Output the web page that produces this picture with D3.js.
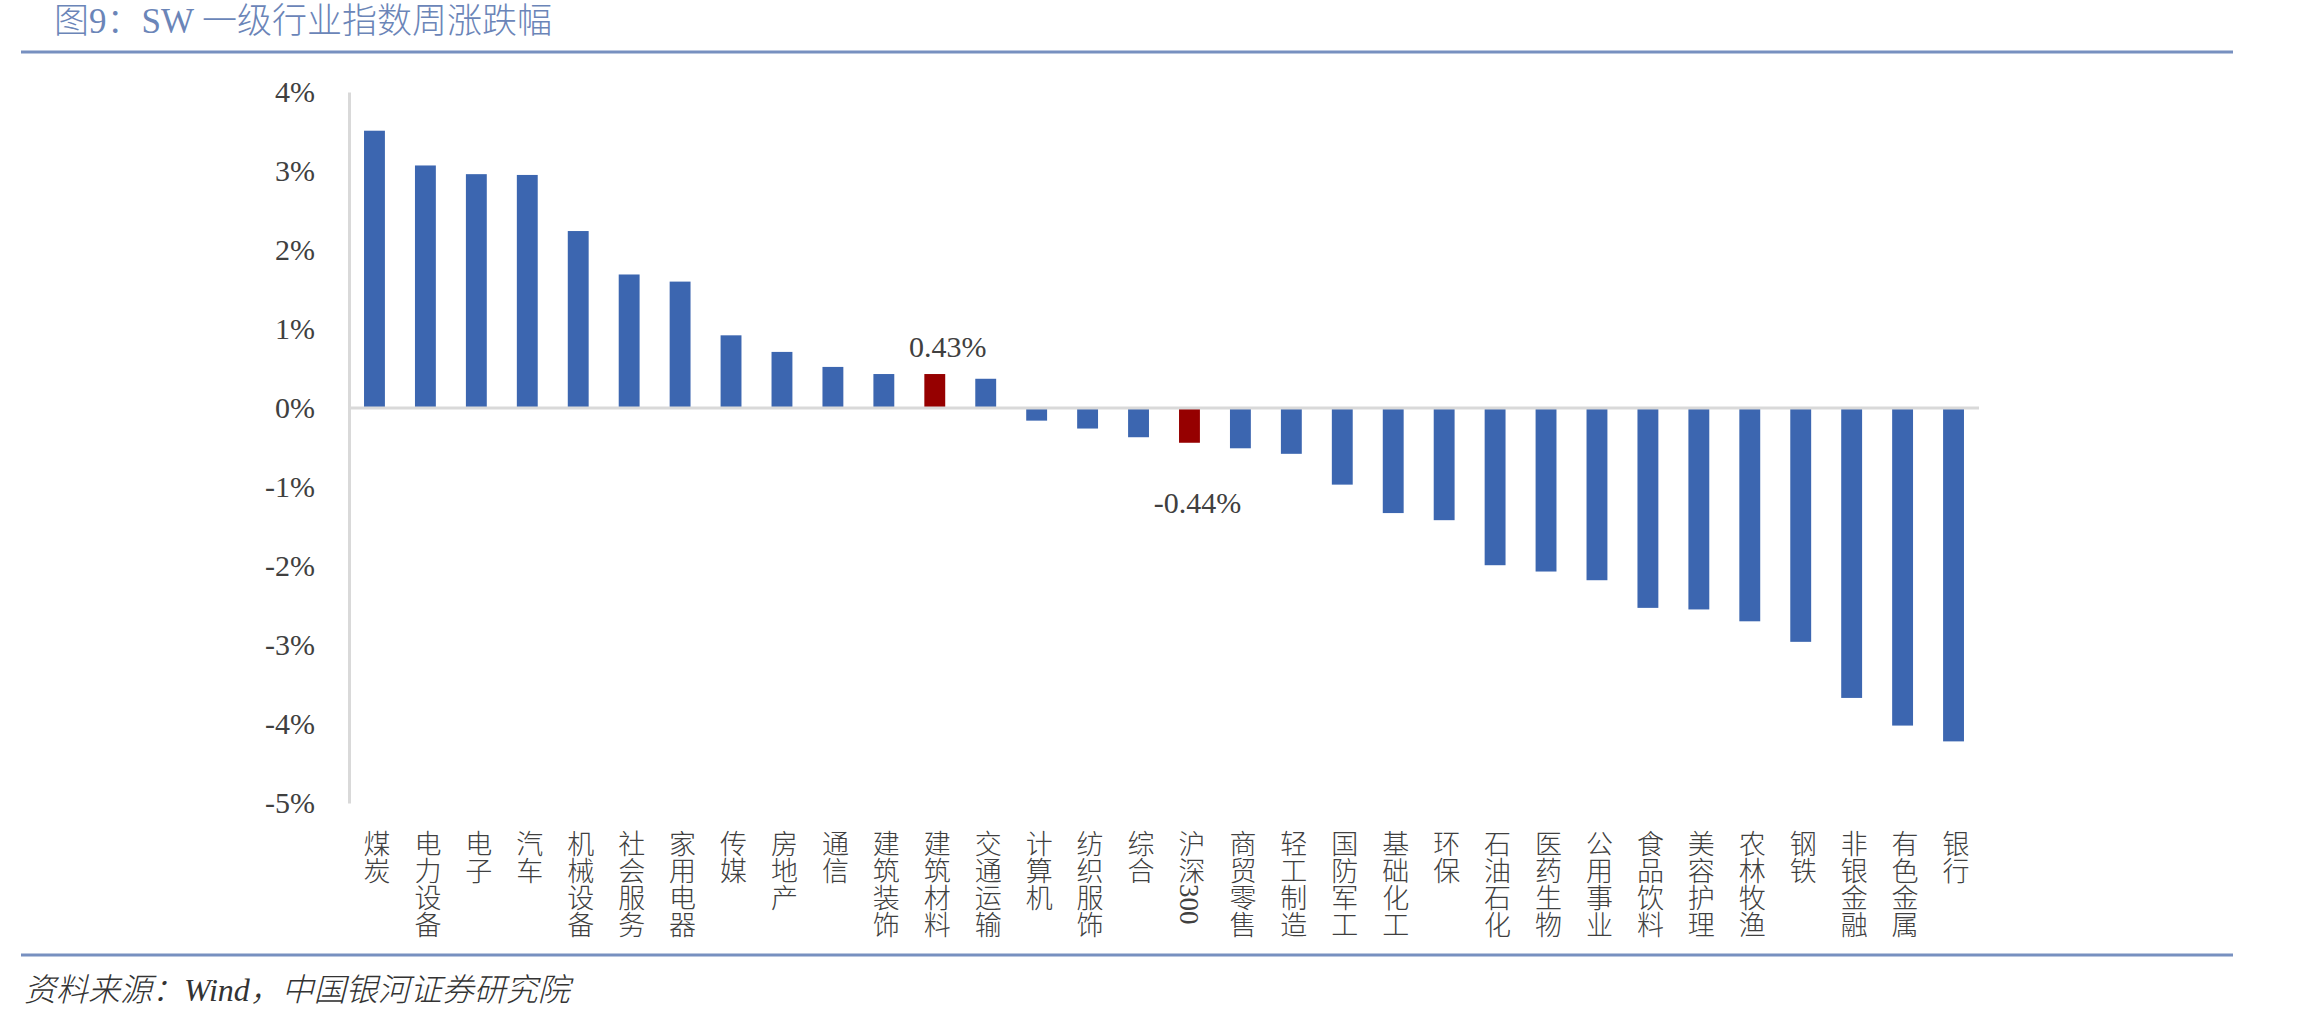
<!DOCTYPE html>
<html>
<head>
<meta charset="utf-8">
<script src="https://cdn.jsdelivr.net/npm/d3@7"></script>
<style>
  html, body { margin: 0; padding: 0; background: #fff; }
  svg { display: block; }
</style>
</head>
<body>
<svg id="chart" width="2303" height="1020"></svg>
<script>
const titleText = "图9：SW 一级行业指数周涨跌幅";
const sourceText = "资料来源：Wind，中国银河证券研究院";
const categories = ["煤炭","电力设备","电子","汽车","机械设备","社会服务","家用电器","传媒","房地产","通信","建筑装饰","建筑材料","交通运输","计算机","纺织服饰","综合","沪深300","商贸零售","轻工制造","国防军工","基础化工","环保","石油石化","医药生物","公用事业","食品饮料","美容护理","农林牧渔","钢铁","非银金融","有色金属","银行"];
const values = [3.51,3.07,2.96,2.95,2.24,1.69,1.60,0.92,0.71,0.52,0.43,0.43,0.37,-0.16,-0.26,-0.37,-0.44,-0.51,-0.58,-0.97,-1.33,-1.42,-1.99,-2.07,-2.18,-2.53,-2.55,-2.70,-2.96,-3.67,-4.02,-4.22];
const highlighted = ["建筑材料","沪深300"];
const labelled = ["建筑材料","沪深300"];
const yTicks = [-5,-4,-3,-2,-1,0,1,2,3,4];

const data = categories.map((c, i) => ({cat: c, v: values[i]}));
const serifStack = "'Liberation Serif', 'Noto Sans CJK SC', serif";
const cjkStack = "'Liberation Serif', 'Noto Sans CJK SC', sans-serif";

const svg = d3.select("#chart");

// Title and rules
svg.append("text")
  .attr("x", 54).attr("y", 21)
  .attr("dominant-baseline", "central")
  .style("font-family", cjkStack)
  .style("font-size", "35px")
  .style("font-weight", 300)
  .attr("fill", "#6b85b8")
  .text(titleText);
svg.append("line").attr("x1", 21).attr("x2", 2233).attr("y1", 52).attr("y2", 52)
  .attr("stroke", "#7790c0").attr("stroke-width", 3);
svg.append("line").attr("x1", 21).attr("x2", 2233).attr("y1", 955).attr("y2", 955)
  .attr("stroke", "#7790c0").attr("stroke-width", 3);
svg.append("text")
  .attr("x", 24).attr("y", 990)
  .attr("dominant-baseline", "central")
  .style("font-family", cjkStack)
  .style("font-size", "32px")
  .style("font-style", "italic")
  .style("font-weight", 300)
  .attr("fill", "#333")
  .text(sourceText);

// Scales
const x = d3.scaleBand().domain(categories).range([349, 1979]).paddingInner(0.59).paddingOuter(0.295);
const y = d3.scaleLinear().domain([-5, 4]).range([803, 92]);

// Y axis
const yAxis = d3.axisLeft(y).tickValues(yTicks).tickSize(0).tickPadding(34).tickFormat(d => d + "%");
const gy = svg.append("g").attr("transform", "translate(349,0)").call(yAxis);
gy.select(".domain").attr("stroke", "#d9d9d9").attr("stroke-width", 3);
gy.selectAll(".tick text")
  .style("font-family", serifStack)
  .style("font-size", "30px")
  .attr("fill", "#404040");

// Bars
svg.append("g").selectAll("rect").data(data).join("rect")
  .attr("x", d => x(d.cat))
  .attr("width", x.bandwidth())
  .attr("y", d => y(Math.max(0, d.v)))
  .attr("height", d => Math.abs(y(d.v) - y(0)))
  .attr("fill", d => highlighted.includes(d.cat) ? "#960000" : "#3c66b0");

// Zero line
svg.append("line")
  .attr("x1", 349).attr("x2", x.range()[1])
  .attr("y1", y(0)).attr("y2", y(0))
  .attr("stroke", "#d9d9d9").attr("stroke-width", 3);

// Data labels
svg.append("g").selectAll("text").data(data.filter(d => labelled.includes(d.cat))).join("text")
  .attr("x", d => x(d.cat) + x.bandwidth() / 2 + (d.v >= 0 ? 13 : 8))
  .attr("y", d => d.v >= 0 ? y(d.v) - 17 : y(d.v) + 70)
  .attr("text-anchor", "middle")
  .style("font-family", serifStack)
  .style("font-size", "30px")
  .attr("fill", "#404040")
  .text(d => d.v.toFixed(2) + "%");

// Category labels (vertical)
svg.append("g").selectAll("text").data(categories).join("text")
  .attr("x", d => x(d) + x.bandwidth() / 2)
  .attr("y", 830)
  .style("writing-mode", "vertical-rl")
  .style("font-family", cjkStack)
  .style("font-size", "27px")
  .style("font-weight", 300)
  .attr("fill", "#404040")
  .text(d => d);
</script>
</body>
</html>
